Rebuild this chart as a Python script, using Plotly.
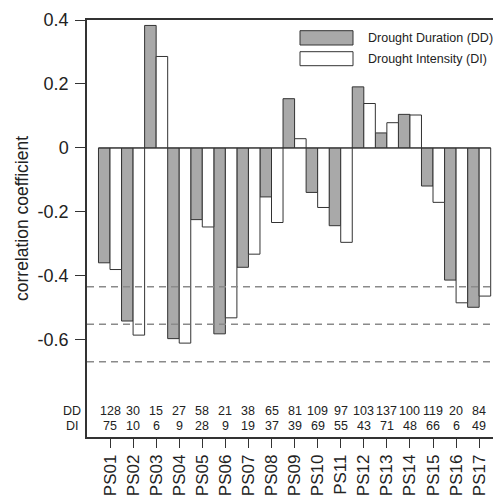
import plotly.graph_objects as go

stations = ["PS01", "PS02", "PS03", "PS04", "PS05", "PS06", "PS07", "PS08", "PS09",
            "PS10", "PS11", "PS12", "PS13", "PS14", "PS15", "PS16", "PS17"]
dd_corr = [-0.359, -0.541, 0.383, -0.596, -0.224, -0.581, -0.373, -0.153, 0.154,
           -0.139, -0.243, 0.191, 0.047, 0.105, -0.119, -0.413, -0.498]
di_corr = [-0.380, -0.585, 0.286, -0.610, -0.247, -0.531, -0.332, -0.233, 0.029,
           -0.186, -0.295, 0.139, 0.079, 0.103, -0.170, -0.484, -0.463]
dd_count = [128, 30, 15, 27, 58, 21, 38, 65, 81, 109, 97, 103, 137, 100, 119, 20, 84]
di_count = [75, 10, 6, 9, 28, 9, 19, 37, 39, 69, 55, 43, 71, 48, 66, 6, 49]
thresholds = [-0.434, -0.551, -0.668]
y_tick_vals = [0.4, 0.2, 0, -0.2, -0.4, -0.6]
y_tick_text = ["0.4", "0.2", "0", "-0.2", "-0.4", "-0.6"]
series_names = ["Drought Duration (DD)", "Drought Intensity (DI)"]
row_labels = ["DD", "DI"]

FONT = "Liberation Sans, Arial, sans-serif"
DARK = "#333333"
GRAY = "#a9a9a9"

idx = list(range(len(stations)))

fig = go.Figure()
fig.add_trace(go.Bar(x=idx, y=dd_corr, offset=-0.5, width=0.5, name=series_names[0],
                     marker=dict(color=GRAY, line=dict(color=DARK, width=1)),
                     showlegend=False))
fig.add_trace(go.Bar(x=idx, y=di_corr, offset=0.0, width=0.5, name=series_names[1],
                     marker=dict(color="white", line=dict(color=DARK, width=1)),
                     showlegend=False))

shapes = []
# zero baseline across bars
shapes.append(dict(type="line", xref="x", yref="y", x0=-0.5, x1=len(stations) - 0.5,
                   y0=0, y1=0, line=dict(color=DARK, width=1), layer="above"))
for t in thresholds:
    shapes.append(dict(type="line", xref="paper", yref="y", x0=0, x1=1, y0=t, y1=t,
                       line=dict(color="#8a8a8a", width=1.5, dash="7px,5px"), layer="above"))

# legend (drawn manually)
pw, ph, pl, pb = 406.0, 417.0, 87.0, 437.0
def px(xp):
    return (xp - pl) / pw
def py(yp):
    return (pb - yp) / ph

shapes.append(dict(type="rect", xref="paper", yref="paper", x0=px(300), x1=px(353),
                   y0=py(45), y1=py(30.7), fillcolor=GRAY, line=dict(color=DARK, width=1)))
shapes.append(dict(type="rect", xref="paper", yref="paper", x0=px(300), x1=px(353),
                   y0=py(65.7), y1=py(51.7), fillcolor="white", line=dict(color=DARK, width=1)))

annotations = []
annotations.append(dict(xref="paper", yref="paper", x=px(366), y=py(37.8), text=series_names[0],
                        showarrow=False, xanchor="left", yanchor="middle",
                        font=dict(family=FONT, size=12.5, color="#222")))
annotations.append(dict(xref="paper", yref="paper", x=px(366), y=py(58.8), text=series_names[1],
                        showarrow=False, xanchor="left", yanchor="middle",
                        font=dict(family=FONT, size=12.5, color="#222")))

# count rows
for i in idx:
    annotations.append(dict(xref="x", yref="paper", x=i, y=py(411), text=str(dd_count[i]),
                            showarrow=False, xanchor="center", yanchor="middle",
                            font=dict(family=FONT, size=12.5, color="#222")))
    annotations.append(dict(xref="x", yref="paper", x=i, y=py(425.5), text=str(di_count[i]),
                            showarrow=False, xanchor="center", yanchor="middle",
                            font=dict(family=FONT, size=12.5, color="#222")))
annotations.append(dict(xref="paper", yref="paper", x=px(72), y=py(411), text=row_labels[0],
                        showarrow=False, xanchor="center", yanchor="middle",
                        font=dict(family=FONT, size=12.5, color="#222")))
annotations.append(dict(xref="paper", yref="paper", x=px(72), y=py(425.5), text=row_labels[1],
                        showarrow=False, xanchor="center", yanchor="middle",
                        font=dict(family=FONT, size=12.5, color="#222")))

# y title
annotations.append(dict(xref="paper", yref="paper", x=px(21.5), y=py(218.5),
                        text="correlation coefficient", textangle=-90, showarrow=False,
                        xanchor="center", yanchor="middle",
                        font=dict(family=FONT, size=17.5, color="#222")))

fig.update_layout(
    width=493, height=497,
    margin=dict(l=87, r=0, t=20, b=60, pad=0),
    paper_bgcolor="white", plot_bgcolor="white",
    barmode="overlay",
    shapes=shapes, annotations=annotations,
    xaxis=dict(range=[-0.997, 16.6], tickmode="array", tickvals=idx, ticktext=stations,
               tickangle=-90, ticks="outside", ticklen=9, tickwidth=1.2, tickcolor=DARK,
               showline=True, linecolor=DARK, linewidth=1.5, mirror=True,
               showgrid=False, zeroline=False,
               tickfont=dict(family=FONT, size=17, color="#222")),
    yaxis=dict(range=[-0.9035, 0.4], tickmode="array", tickvals=y_tick_vals,
               ticktext=y_tick_text, ticks="outside", ticklen=10, tickwidth=1.2,
               tickcolor=DARK, showline=True, linecolor=DARK, linewidth=1.5,
               showgrid=False, zeroline=False, ticklabelstandoff=3,
               tickfont=dict(family=FONT, size=18, color="#222")),
)

fig.write_html("out.html")
